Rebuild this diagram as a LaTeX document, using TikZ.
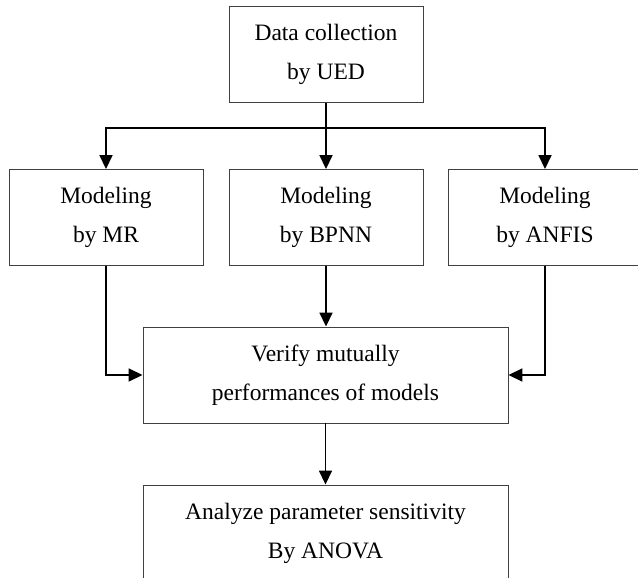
\documentclass[tikz,border=0pt]{standalone}
\usepackage{fontspec}
\setmainfont{Liberation Serif}
\usepackage{tikz}
\usetikzlibrary{arrows.meta,positioning}
\tikzset{blk/.style={rectangle,draw=black!75,line width=0.9pt,align=center,minimum width=194pt,minimum height=96pt,inner sep=0pt,font=\fontsize{23.5}{39}\selectfont}}
\tikzset{wide/.style={blk,minimum width=365pt}}
\tikzset{flow/.style={->,line width=1.7pt,black}}

\begin{document}
\begin{tikzpicture}[x=1pt,y=-1pt,>={Triangle[length=14pt,width=13pt]}]
    \useasboundingbox (0,0) rectangle (638,578);
    \clip (0,0) rectangle (638,578);
    \node[blk] (ued) at (326,54.5) {Data collection\\by UED};
    \node[blk] (mr) at (106,217.5) {Modeling\\by MR};
    \node[blk] (bpnn) at (326,217.5) {Modeling\\by BPNN};
    \node[blk] (anfis) at (545,217.5) {Modeling\\by ANFIS};
    \node[wide] (verify) at (325.5,375) {Verify mutually\\performances of models};
    \node[wide] (anova) at (325.5,533) {Analyze parameter sensitivity\\By ANOVA};
    \coordinate (split) at (326,128);

    \draw [flow] (ued) to [] (bpnn);
    \draw [flow] (split) -| (mr.north);
    \draw [flow] (split) -| (anfis.north);
    \draw [flow] (mr.south) |- (verify.west);
    \draw [flow] (anfis.south) |- (verify.east);
    \draw [flow] (bpnn) to [] (verify.north -| bpnn);
    \draw [flow] (verify) to [] (anova);
\end{tikzpicture}
\end{document}
